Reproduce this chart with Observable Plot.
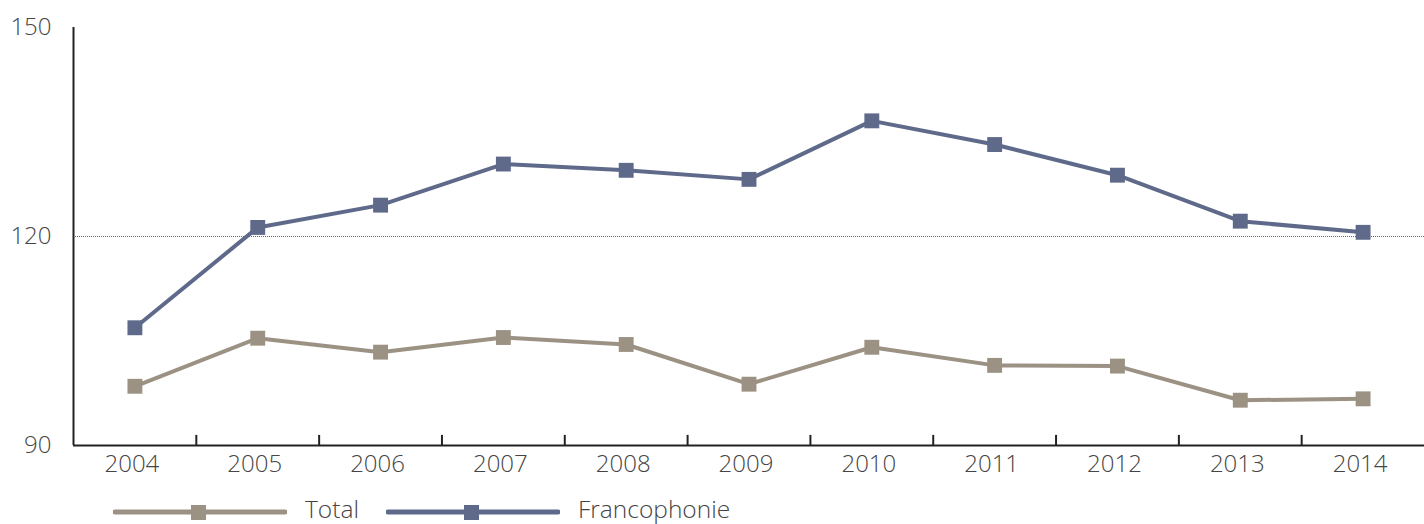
<!DOCTYPE html>
<html><head><meta charset="utf-8">
<script src="https://cdn.jsdelivr.net/npm/d3@7"></script>
<script src="https://cdn.jsdelivr.net/npm/@observablehq/plot@0.6"></script>
<style>
body{margin:0;background:#fff;font-family:"Open Sans",sans-serif;}
#wrap{position:relative;width:1424px;height:524px;}
#legend{position:absolute;left:0;top:490px;width:1424px;height:34px;}
.lg{position:absolute;top:0;display:flex;align-items:center;height:36px;font-size:24.5px;color:#444;font-weight:300;}
</style></head>
<body><div id="wrap"><div id="chart"></div><div id="legend"></div></div>
<script>
const years = [2004,2005,2006,2007,2008,2009,2010,2011,2012,2013,2014];
const total = [98.5,105.4,103.4,105.5,104.5,98.8,104.1,101.5,101.4,96.5,96.7];
const franco = [106.9,121.3,124.5,130.4,129.5,128.2,136.6,133.2,128.8,122.2,120.6];
const seriesNames = ["Total","Francophonie"];
const colors = ["#9b9284","#5f6a8a"];
const yTicks = [90,120,150];

const data = [];
years.forEach((y,i)=>{data.push({year:y,value:total[i],s:"Total"});data.push({year:y,value:franco[i],s:"Francophonie"});});
const bounds = years.slice(0,-1).map(y=>y+0.5);
const xmin = years[0]-0.5, xmax = years[years.length-1]+0.5;

const plot = Plot.plot({
  width:1424, height:480,
  marginTop:27, marginBottom:35, marginLeft:73, marginRight:0,
  style:{fontFamily:"Open Sans", fontSize:"24px", color:"#444", fontWeight:300},
  x:{domain:[xmin,xmax], label:null},
  y:{domain:[90,150], label:null},
  color:{domain:seriesNames, range:colors},
  marks:[
    Plot.ruleY([120],{stroke:"#666",strokeWidth:1,strokeDasharray:"1,1"}),
    Plot.axisX(years,{tickSize:0,tickPadding:9,tickFormat:d=>String(d),fontSize:24,fill:"#454545",dx:-3,label:null}),
    Plot.axisY(yTicks,{tickSize:0,tickPadding:22,fontSize:24,fill:"#454545",label:null}),
    Plot.ruleX(bounds,{y1:90,y2:91.45,stroke:"#222",strokeWidth:2}),
    Plot.ruleX([xmin],{y1:90,y2:150,stroke:"#222",strokeWidth:2}),
    Plot.ruleY([90],{stroke:"#222",strokeWidth:2}),
    Plot.line(data,{x:"year",y:"value",z:"s",stroke:"s",strokeWidth:4}),
    Plot.dot(data,{x:"year",y:"value",fill:"s",symbol:"square",r:8.4})
  ]
});
document.getElementById("chart").appendChild(plot);

const leg = document.getElementById("legend");
const legPos = [113,386];
seriesNames.forEach((n,i)=>{
  const d = document.createElement("div");
  d.className="lg"; d.style.left=legPos[i]+"px";
  d.innerHTML = `<svg width="174" height="36"><line x1="2" x2="172" y1="22" y2="22" stroke="${colors[i]}" stroke-width="5" stroke-linecap="round"/><rect x="78" y="15" width="15" height="15" fill="${colors[i]}"/></svg><span style="margin-left:18px;margin-top:0px">${n}</span>`;
  leg.appendChild(d);
});
</script></body></html>
